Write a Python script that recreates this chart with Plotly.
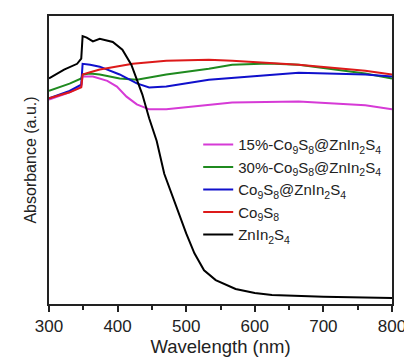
import plotly.graph_objects as go

# Wavelength (nm) and absorbance (a.u., normalised to plot height)
wl_15 = [300, 330, 347, 349, 364, 385, 399, 413, 428, 446, 471, 533, 567, 664, 761, 800]
ab_15 = [0.71, 0.735, 0.755, 0.79, 0.79, 0.775, 0.755, 0.72, 0.693, 0.676, 0.676, 0.693, 0.70, 0.703, 0.69, 0.676]

wl_30 = [300, 330, 347, 349, 360, 374, 403, 428, 471, 533, 567, 620, 664, 761, 800]
ab_30 = [0.74, 0.765, 0.783, 0.797, 0.80, 0.797, 0.783, 0.779, 0.797, 0.817, 0.831, 0.835, 0.831, 0.80, 0.783]

wl_cz = [300, 330, 347, 349, 360, 374, 403, 428, 446, 471, 533, 567, 664, 761, 800]
ab_cz = [0.714, 0.74, 0.762, 0.834, 0.831, 0.824, 0.797, 0.766, 0.752, 0.755, 0.779, 0.785, 0.803, 0.797, 0.79]

wl_co = [300, 330, 347, 349, 360, 374, 422, 471, 533, 567, 664, 761, 800]
ab_co = [0.714, 0.735, 0.752, 0.797, 0.805, 0.814, 0.834, 0.845, 0.848, 0.845, 0.831, 0.810, 0.797]

wl_zn = [300, 322, 341, 347, 349, 355, 364, 374, 393, 407, 420, 429, 436, 446, 457, 468, 486,
         500, 512, 526, 543, 572, 600, 625, 700, 800]
ab_zn = [0.783, 0.814, 0.834, 0.852, 0.93, 0.925, 0.912, 0.921, 0.91, 0.883, 0.831, 0.772, 0.728, 0.645,
         0.566, 0.452, 0.334, 0.245, 0.176, 0.117, 0.083, 0.052, 0.038, 0.031, 0.025, 0.021]

names = ["15%-Co<sub>9</sub>S<sub>8</sub>@ZnIn<sub>2</sub>S<sub>4</sub>",
         "30%-Co<sub>9</sub>S<sub>8</sub>@ZnIn<sub>2</sub>S<sub>4</sub>",
         "Co<sub>9</sub>S<sub>8</sub>@ZnIn<sub>2</sub>S<sub>4</sub>",
         "Co<sub>9</sub>S<sub>8</sub>",
         "ZnIn<sub>2</sub>S<sub>4</sub>"]
colors = ["#d63ad6", "#1f8a1f", "#1010cc", "#dd1a1a", "#000000"]
series = [(wl_15, ab_15), (wl_30, ab_30), (wl_cz, ab_cz), (wl_co, ab_co), (wl_zn, ab_zn)]

fig = go.Figure()
for (x, y), n, c in zip(series, names, colors):
    fig.add_trace(go.Scatter(x=x, y=y, mode="lines", name=n,
                             line=dict(color=c, width=2)))

font = "Liberation Sans, Arial, sans-serif"
fig.update_layout(
    width=404, height=353,
    margin=dict(l=41, r=18, t=6, b=57),
    paper_bgcolor="white", plot_bgcolor="white",
    font=dict(family=font, size=15, color="#222"),
    showlegend=True,
    legend=dict(x=0.435, y=0.61, xanchor="left", yanchor="top",
                bgcolor="rgba(0,0,0,0)", font=dict(size=15), tracegroupgap=0),
    xaxis=dict(range=[300, 800], tickvals=[300, 400, 500, 600, 700, 800],
               ticks="outside", ticklen=6, tickwidth=1.5, tickcolor="#222",
               minor=dict(ticks="outside", ticklen=4, tickwidth=1.5, dtick=50, tickcolor="#222"),
               showline=True, linecolor="#222", linewidth=1.5, mirror=True,
               showgrid=False, zeroline=False,
               title=dict(text="Wavelength (nm)", font=dict(size=18.5), standoff=0),
               tickfont=dict(size=17)),
    yaxis=dict(range=[0, 1], showticklabels=False, ticks="",
               showline=True, linecolor="#222", linewidth=1.5, mirror=True,
               showgrid=False, zeroline=False,
               title=dict(text="Absorbance (a.u.)", font=dict(size=16), standoff=7)),
)
fig.write_html("out.html")
